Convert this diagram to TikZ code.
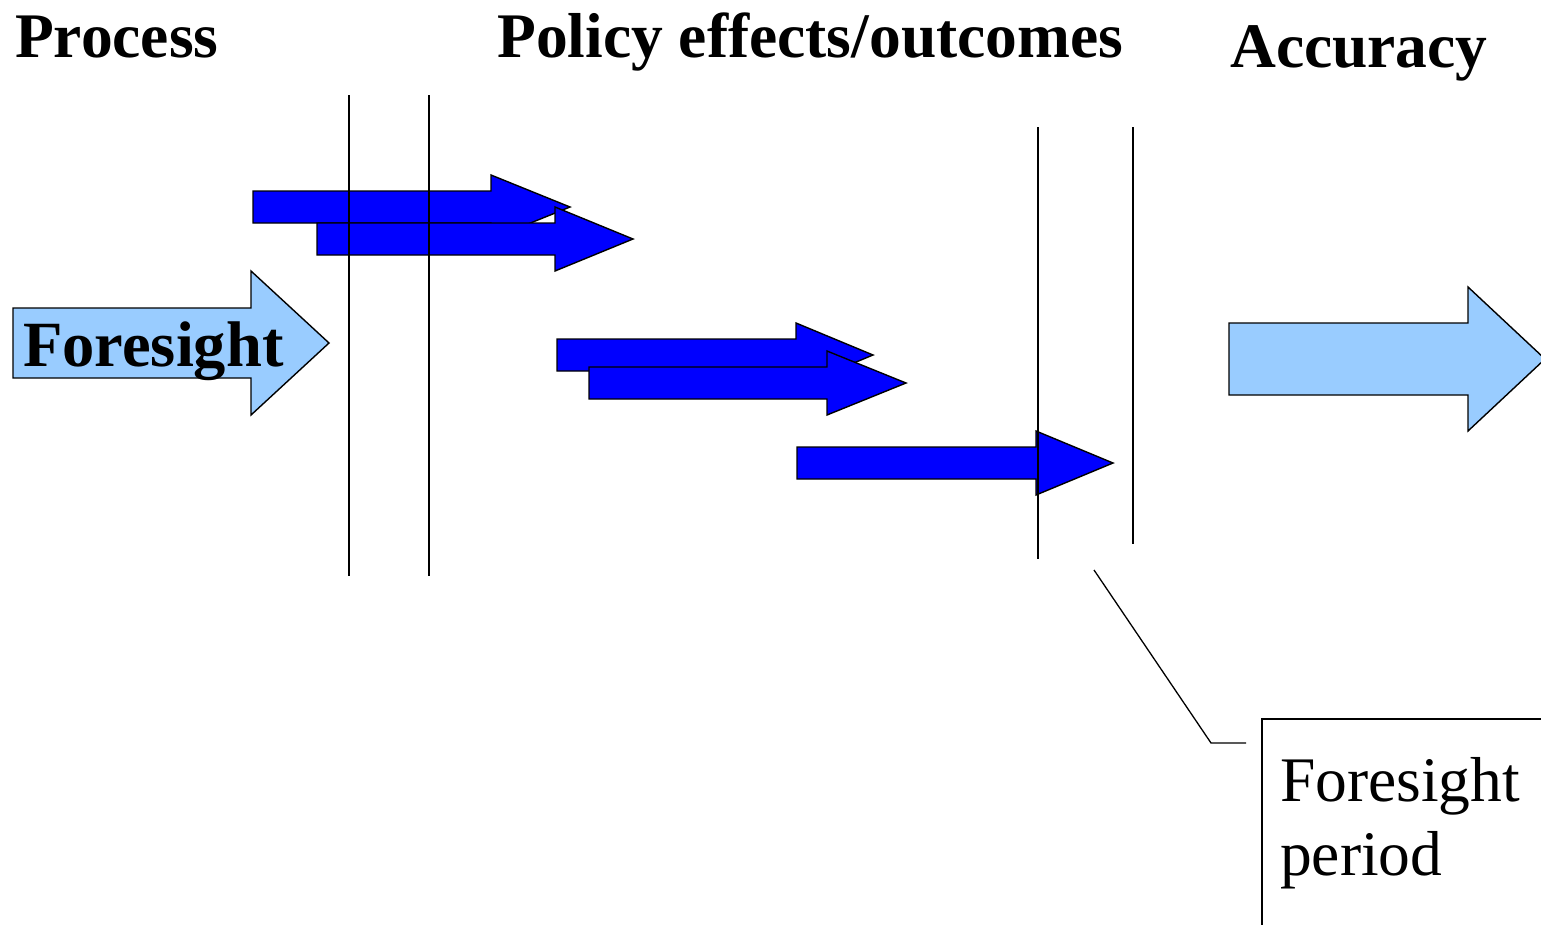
\documentclass[tikz,border=0pt]{standalone}
\usepackage{fontspec}
\setmainfont{Liberation Serif}
\begin{document}
\begin{tikzpicture}[x=1pt,y=-1pt,
  arrowline/.style={draw=black,line width=1.4pt,line join=miter},
  darkarrow/.style={arrowline,fill=arrowblue},
  lightarrow/.style={arrowline,fill=paleblue},
  marker/.style={draw=black,line width=1.3pt},
  heading/.style={font=\fontsize{63.5}{74}\selectfont\bfseries,anchor=base west,inner sep=0pt},
  note/.style={font=\fontsize{63.5}{74}\selectfont,anchor=north west,inner sep=0pt,align=left}]
\definecolor{arrowblue}{RGB}{0,0,255}
\definecolor{paleblue}{RGB}{153,204,255}
% block arrow: style, tail x, head base x, tip x, centre y, shaft half-height, head half-height
\newcommand\blockarrow[7]{%
  \draw[#1] (#2,#5-#6) -- (#3,#5-#6) -- (#3,#5-#7) -- (#4,#5)
    -- (#3,#5+#7) -- (#3,#5+#6) -- (#2,#5+#6) -- cycle;}
\useasboundingbox (0,0) rectangle (1541,924);
\clip (0,0) rectangle (1541,924);

% headings
\node[heading] (process) at (15,57) {Process};
\node[heading] (effects) at (497,57) {Policy effects/outcomes};
\node[heading] (accuracy) at (1230,67) {Accuracy};

% foresight arrow and its label
\blockarrow{lightarrow}{13}{251}{329}{343}{35}{72}
\node[heading,font=\fontsize{64.5}{74}\selectfont\bfseries] (foresight) at (23,366) {Foresight};

% policy effect arrows
\blockarrow{darkarrow}{253}{491}{570}{207}{16}{32}
\blockarrow{darkarrow}{317}{555}{633}{239}{16}{32}
\blockarrow{darkarrow}{557}{796}{873}{355}{16}{32}
\blockarrow{darkarrow}{589}{827}{906}{383}{16}{32}
\blockarrow{darkarrow}{797}{1036}{1113}{463}{16}{32}

% accuracy arrow
\blockarrow{lightarrow}{1229}{1468}{1545}{359}{36}{72}

% period markers
\coordinate (m1t) at (349,95);  \coordinate (m1b) at (349,576);
\coordinate (m2t) at (429,95);  \coordinate (m2b) at (429,576);
\coordinate (m3t) at (1038,127); \coordinate (m3b) at (1038,559);
\coordinate (m4t) at (1133,127); \coordinate (m4b) at (1133,544);
\draw[marker] (m1t) -- (m1b);
\draw[marker] (m2t) -- (m2b);
\draw[marker] (m3t) -- (m3b);
\draw[marker] (m4t) -- (m4b);

% callout box for the foresight period
\coordinate (boxtr) at (1560,719);
\coordinate (boxtl) at (1262,719);
\coordinate (boxbl) at (1262,940);
\draw[marker] (boxtr) -- (boxtl) -- (boxbl);
\node[note] (period) at (1280,757) {Foresight\\period};
\coordinate (leadstart) at (1094,570);
\coordinate (leadknee) at (1211,743);
\coordinate (leadend) at (1246,743);
\draw[marker] (leadstart) -- (leadknee) -- (leadend);
\end{tikzpicture}
\end{document}
